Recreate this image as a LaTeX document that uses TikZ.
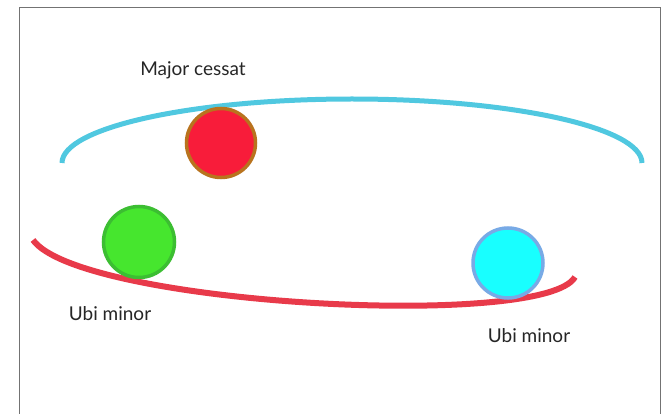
\documentclass[tikz,border=0pt]{standalone}
\usepackage{fontspec}
\setmainfont{Lato}
\definecolor{arcblue}{RGB}{80,200,224}
\definecolor{arcred}{RGB}{232,58,74}
\definecolor{ballred}{RGB}{248,28,58}
\definecolor{ballredrim}{RGB}{185,115,30}
\definecolor{ballgreen}{RGB}{70,230,46}
\definecolor{ballgreenrim}{RGB}{60,190,50}
\definecolor{ballcyan}{RGB}{24,255,255}
\definecolor{ballcyanrim}{RGB}{120,170,230}
\tikzset{
  ball/.style={circle, line width=3.5pt, inner sep=0pt, minimum size=69pt},
  tag/.style={font=\fontsize{19}{22}\selectfont, text=black!85}
}
\begin{document}
\begin{tikzpicture}[x=1pt,y=-1pt]
  \useasboundingbox (0,0) rectangle (667,414);
  \fill [white] (0,0) rectangle (667,414);
  \draw [color=black!55, line width=1pt] (19,420) -- (19,8) -- (660,8) -- (660,420);

  % the two swings
  \draw [line width=5pt, color=arcblue] (62,163) arc [start angle=180, end angle=360, x radius=290, y radius=64];
  \draw [line width=6pt, color=arcred] (33,240) .. controls (80,305) and (545,330) .. (575,277);

  % balls
  \node [ball, draw=ballredrim, fill=ballred] (major) at (221,143) {};
  \node [ball, draw=ballgreenrim, fill=ballgreen, minimum size=71pt] (minorleft) at (139,242) {};
  \node [ball, draw=ballcyanrim, fill=ballcyan, minimum size=70pt] (minorright) at (508,263) {};

  \node [tag] (majortag) at (193,70) {Major cessat};
  \node [tag] (lefttag) at (110,314) {Ubi minor};
  \node [tag] (righttag) at (529,336) {Ubi minor};
\end{tikzpicture}
\end{document}
